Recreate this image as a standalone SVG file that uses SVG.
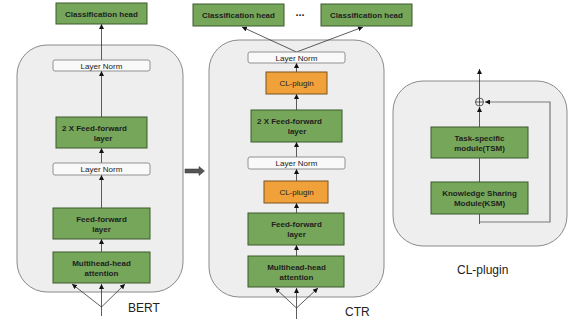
<svg xmlns="http://www.w3.org/2000/svg" width="569" height="320" viewBox="0 0 569 320">
<style>
.panel{fill:#eeeeee;stroke:#8a8a8a;stroke-width:1}
.green{fill:#76a65a;stroke:#3b5a2a;stroke-width:1}
.orange{fill:#f1a13a;stroke:#7a5220;stroke-width:1}
.norm{fill:#f9f9f9;stroke:#7a7a7a;stroke-width:0.8}
.bt{font-family:"Liberation Sans",Arial,sans-serif;font-size:8px;font-weight:bold;fill:#1e1e1e}
.rt{font-family:"Liberation Sans",Arial,sans-serif;font-size:8px;fill:#222}
.lbl{font-family:"Liberation Sans",Arial,sans-serif;font-size:12px;fill:#222}
.c{text-anchor:middle}
.ln{fill:none;stroke:#333;stroke-width:0.8}
.fb{fill:none;stroke:#7a7a7a;stroke-width:1.2}
</style>
<defs>
<marker id="ah" viewBox="0 0 10 10" refX="10" refY="5" markerWidth="5" markerHeight="5" markerUnits="userSpaceOnUse" orient="auto">
<path d="M0,0 L10,5 L0,10 z" fill="#111"/>
</marker>
</defs>

<g id="panels">
<rect id="bert-panel" class="panel" x="17" y="45" width="166" height="247" rx="30"/>
<rect id="ctr-panel" class="panel" x="209" y="40" width="175" height="257" rx="30"/>
<rect id="plugin-panel" class="panel" x="393" y="81" width="174" height="165" rx="30"/>
</g>

<g id="connectors">
<!-- BERT -->
<line class="ln" x1="101.5" y1="60" x2="101.5" y2="24" marker-end="url(#ah)"/>
<line class="ln" x1="101.5" y1="117" x2="101.5" y2="71" marker-end="url(#ah)"/>
<line class="ln" x1="101.5" y1="163" x2="101.5" y2="148" marker-end="url(#ah)"/>
<line class="ln" x1="101.5" y1="208" x2="101.5" y2="175" marker-end="url(#ah)"/>
<line class="ln" x1="101.5" y1="252" x2="101.5" y2="239" marker-end="url(#ah)"/>
<line class="ln" x1="101.5" y1="316" x2="101.5" y2="284" marker-end="url(#ah)"/>
<line class="ln" x1="101.5" y1="307" x2="72" y2="284" marker-end="url(#ah)"/>
<line class="ln" x1="101.5" y1="307" x2="125" y2="284" marker-end="url(#ah)"/>
<!-- CTR -->
<line class="ln" x1="296.5" y1="52" x2="242" y2="27" marker-end="url(#ah)"/>
<line class="ln" x1="296.5" y1="52" x2="363" y2="27" marker-end="url(#ah)"/>
<line class="ln" x1="296.5" y1="72" x2="296.5" y2="63" marker-end="url(#ah)"/>
<line class="ln" x1="296.5" y1="110" x2="296.5" y2="94" marker-end="url(#ah)"/>
<line class="ln" x1="296.5" y1="157" x2="296.5" y2="142" marker-end="url(#ah)"/>
<line class="ln" x1="296.5" y1="181" x2="296.5" y2="169" marker-end="url(#ah)"/>
<line class="ln" x1="296.5" y1="213" x2="296.5" y2="203" marker-end="url(#ah)"/>
<line class="ln" x1="296.5" y1="256" x2="296.5" y2="245" marker-end="url(#ah)"/>
<line class="ln" x1="296.5" y1="319" x2="296.5" y2="288" marker-end="url(#ah)"/>
<line class="ln" x1="296.5" y1="308" x2="275" y2="288" marker-end="url(#ah)"/>
<line class="ln" x1="296.5" y1="308" x2="318" y2="288" marker-end="url(#ah)"/>
<!-- BERT to CTR -->
<polygon points="185,169 199,169 199,166.5 204.5,171 199,175.5 199,173 185,173" fill="#555" stroke="#333" stroke-width="0.5"/>
<!-- CL-plugin -->
<line class="ln" x1="479.5" y1="224" x2="479.5" y2="107" marker-end="url(#ah)"/>
<line class="ln" x1="479.5" y1="98" x2="479.5" y2="69" marker-end="url(#ah)"/>
<polyline class="fb" points="479.5,222 550,222 550,102 485,102" marker-end="url(#ah)"/>
</g>

<g id="bert-cls"><rect class="green" x="56" y="3" width="91" height="21"/><text class="bt c" x="101.5" y="16.5">Classification head</text></g>
<g id="bert-norm1"><rect class="norm" x="53" y="60" width="97" height="11" rx="2"/><text class="rt c" x="101.5" y="68.5">Layer Norm</text></g>
<g id="bert-ff2"><rect class="green" x="56" y="117" width="91" height="31"/><text class="bt" x="62" y="131">2 X Feed-forward</text><text class="bt c" x="103" y="141">layer</text></g>
<g id="bert-norm2"><rect class="norm" x="53" y="163" width="97" height="12" rx="2"/><text class="rt c" x="101.5" y="172">Layer Norm</text></g>
<g id="bert-ff"><rect class="green" x="53" y="208" width="97" height="31"/><text class="bt c" x="101.5" y="222">Feed-forward</text><text class="bt c" x="101.5" y="232">layer</text></g>
<g id="bert-mha"><rect class="green" x="53" y="252" width="97" height="31"/><text class="bt c" x="101.5" y="266">Multihead-head</text><text class="bt c" x="101.5" y="276">attention</text></g>
<text id="bert-label" class="lbl" x="128" y="312">BERT</text>

<g id="ctr-cls1"><rect class="green" x="193" y="4" width="91" height="22"/><text class="bt c" x="238.5" y="18">Classification head</text></g>
<text id="dots" class="bt c" x="300" y="16" style="font-size:11px">...</text>
<g id="ctr-cls2"><rect class="green" x="321" y="4" width="91" height="22"/><text class="bt c" x="366.5" y="18">Classification head</text></g>
<g id="ctr-norm1"><rect class="norm" x="248" y="52" width="97" height="11" rx="2"/><text class="rt c" x="296.5" y="60.5">Layer Norm</text></g>
<g id="ctr-plugin1"><rect class="orange" x="266" y="72" width="61" height="22"/><text class="rt c" x="296.5" y="86">CL-plugin</text></g>
<g id="ctr-ff2"><rect class="green" x="251" y="110" width="91" height="32"/><text class="bt" x="257" y="124">2 X Feed-forward</text><text class="bt c" x="297" y="134">layer</text></g>
<g id="ctr-norm2"><rect class="norm" x="248" y="157" width="97" height="12" rx="2"/><text class="rt c" x="296.5" y="166">Layer Norm</text></g>
<g id="ctr-plugin2"><rect class="orange" x="264" y="181" width="64" height="22"/><text class="rt c" x="296.5" y="195">CL-plugin</text></g>
<g id="ctr-ff"><rect class="green" x="248" y="213" width="96" height="32"/><text class="bt c" x="296.5" y="227">Feed-forward</text><text class="bt c" x="296.5" y="237">layer</text></g>
<g id="ctr-mha"><rect class="green" x="248" y="256" width="96" height="31"/><text class="bt c" x="296.5" y="270">Multihead-head</text><text class="bt c" x="296.5" y="280">attention</text></g>
<text id="ctr-label" class="lbl" x="345" y="316">CTR</text>

<g id="tsm"><rect class="green" x="431" y="127" width="97" height="31"/><text class="bt c" x="479.5" y="141">Task-specific</text><text class="bt c" x="479.5" y="151">module(TSM)</text></g>
<g id="ksm"><rect class="green" x="431" y="182" width="97" height="32"/><text class="bt c" x="479.5" y="196">Knowledge Sharing</text><text class="bt c" x="479.5" y="206">Module(KSM)</text></g>
<g id="sum"><circle cx="479.5" cy="102" r="4" fill="#f4f4f4" stroke="#333" stroke-width="0.8"/><path d="M475.5,102 H483.5 M479.5,98 V106" stroke="#333" stroke-width="0.8"/></g>
<text id="plugin-label" class="lbl" x="457" y="274">CL-plugin</text>
</svg>
